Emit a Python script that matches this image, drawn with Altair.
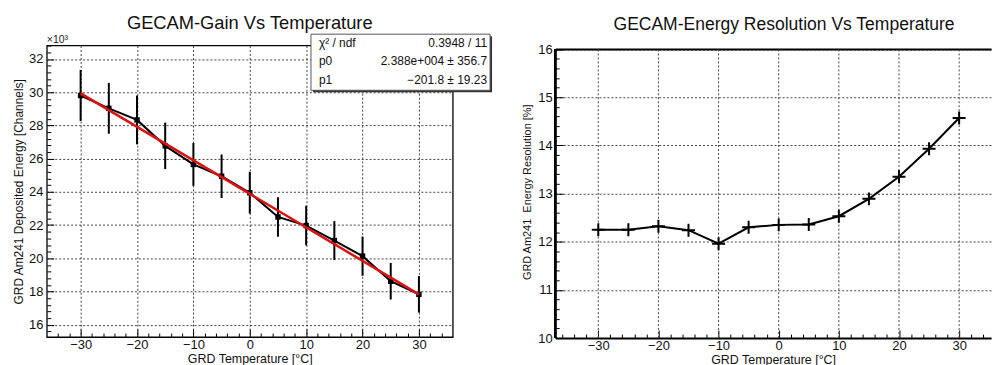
import altair as alt
import pandas as pd

# ---------------- data ----------------
temps = [-30, -25, -20, -15, -10, -5, 0, 5, 10, 15, 20, 25, 30]
gain = [29800, 29030, 28330, 26770, 25650, 24940, 23950, 22490, 21970, 21070, 20130, 18620, 17830]
gain_err = [1540, 1530, 1470, 1400, 1290, 1310, 1260, 1190, 1190, 1170, 1180, 1100, 1100]
fit_t = [-30, 30]
fit_gain = [29930, 17830]
resolution = [12.25, 12.25, 12.32, 12.24, 11.96, 12.30, 12.35, 12.36, 12.53, 12.89, 13.35, 13.93, 14.57]

stat_names = ["χ² / ndf", "p0", "p1"]
stat_values = ["0.3948 / 11", "2.388e+004 ± 356.7", "−201.8 ± 19.23"]

left_title = "GECAM-Gain Vs Temperature"
right_title = "GECAM-Energy Resolution Vs Temperature"
x_title = "GRD Temperature [°C]"
left_y_title = "GRD Am241 Deposited Energy [Channels]"
right_y_title = "GRD Am241\u00a0 Energy Resolution [%]"

x_major = [-30, -20, -10, 0, 10, 20, 30]
left_x_minor = [v for v in range(-34, 35, 2) if v % 10 != 0]
right_x_minor = [v for v in range(-36, 35, 2) if v % 10 != 0]
left_y_major = [16000, 18000, 20000, 22000, 24000, 26000, 28000, 30000, 32000]
left_y_minor = [v for v in range(15600, 32801, 400) if v % 2000 != 0]
right_y_major = [10, 11, 12, 13, 14, 15, 16]
right_y_minor = [round(10 + 0.2 * i, 1) for i in range(31) if i % 5 != 0]
right_y_lo, right_y_hi = 10, 16

FONT = "Liberation Sans"
LW, LH = 408, 293
RW, RH = 438, 294
R_EXTRA = 3.6  # pixels of plot area above the right panel's top frame

df_gain = pd.DataFrame({
    "t": temps,
    "g": gain,
    "lo": [g - e for g, e in zip(gain, gain_err)],
    "hi": [g + e for g, e in zip(gain, gain_err)],
})
df_fit = pd.DataFrame({"t": fit_t, "g": fit_gain})
df_res = pd.DataFrame({"t": temps, "r": resolution})
df_rgrid = pd.DataFrame({"t": x_major})
one = pd.DataFrame({"a": [0]})

grid_kw = dict(grid=True, gridColor="#444", gridDash=[2, 2], gridWidth=1)


def main_x(domain_on, dw=1, grid=True):
    kw = dict(grid_kw)
    kw["grid"] = grid
    return alt.Axis(orient="bottom", values=x_major, ticks=False, tickSize=0, domain=domain_on,
                    domainColor="black", domainWidth=dw,
                    labelFontSize=13, labelPadding=2, labelColor="#111", labelFont=FONT,
                    title=x_title, titleFontSize=12.5, titleFont=FONT, titleFontWeight="normal",
                    titlePadding=0.5, titleColor="#111", **kw)


def tick_x(vals, size, H):
    return alt.Axis(orient="top", offset=-H, values=vals, labels=False, domain=False, grid=False,
                    ticks=True, tickSize=size, tickColor="black", tickWidth=1, title=None)


def tick_y(vals, size, W):
    return alt.Axis(orient="right", offset=-W, values=vals, labels=False, domain=False, grid=False,
                    ticks=True, tickSize=size, tickColor="black", tickWidth=1, title=None)


# ---------------- left panel ----------------
lxs = alt.Scale(domain=[-36, 36], nice=False, zero=False)
lys = alt.Scale(domain=[15260, 32810], nice=False, zero=False)

l_y_axis = alt.Axis(orient="left", values=left_y_major, labelExpr="datum.value / 1000",
                    ticks=False, tickSize=0, domain=False,
                    labelFontSize=13, labelPadding=4, labelColor="#111", labelFont=FONT,
                    title=left_y_title, titleFontSize=12, titleFont=FONT, titleFontWeight="normal",
                    titlePadding=3, titleColor="#111", **grid_kw)

l_line = alt.Chart(df_gain).mark_line(color="black", strokeWidth=2).encode(
    x=alt.X("t:Q", scale=lxs, axis=main_x(False)),
    y=alt.Y("g:Q", scale=lys, axis=l_y_axis),
)
l_err = alt.Chart(df_gain).mark_rule(color="black", strokeWidth=2).encode(
    x=alt.X("t:Q", axis=tick_x(x_major, 8, LH)),
    y=alt.Y("lo:Q", axis=tick_y(left_y_major, 7, LW)),
    y2="hi:Q",
)
l_pts = alt.Chart(df_gain).mark_point(shape="square", filled=True, size=30, color="black", opacity=1).encode(
    x=alt.X("t:Q", axis=tick_x(left_x_minor, 4, LH)),
    y=alt.Y("g:Q", axis=tick_y(left_y_minor, 4, LW)),
)
l_fit = alt.Chart(df_fit).mark_line(color="#dd1111", strokeWidth=2.5).encode(
    x=alt.X("t:Q", axis=None),
    y=alt.Y("g:Q", axis=None),
)

exp_txt = alt.Chart(one).mark_text(text="×10³", align="left", baseline="middle", fontSize=10.5,
                                   font=FONT, color="#222").encode(x=alt.value(0), y=alt.value(-6))

box_shadow = alt.Chart(one).mark_rect(color="#333").encode(
    x=alt.value(267.5), x2=alt.value(447.5), y=alt.value(-9.4), y2=alt.value(47))
box = alt.Chart(one).mark_rect(fill="white", stroke="#555", strokeWidth=1).encode(
    x=alt.value(265.5), x2=alt.value(445.5), y=alt.value(-11.4), y2=alt.value(45))

stat_layers = []
row_y = [-3, 16, 35]
for i in range(3):
    stat_layers.append(alt.Chart(one).mark_text(text=stat_names[i], align="left", baseline="middle",
                                                fontSize=12, font=FONT, color="#111").encode(
        x=alt.value(273.5), y=alt.value(row_y[i])))
    stat_layers.append(alt.Chart(one).mark_text(text=stat_values[i], align="right", baseline="middle",
                                                fontSize=12, font=FONT, color="#111").encode(
        x=alt.value(442.5), y=alt.value(row_y[i])))

left = alt.layer(l_line, l_err, l_pts, l_fit, exp_txt, box_shadow, box, *stat_layers).resolve_axis(
    x="independent", y="independent").properties(
    width=LW, height=LH,
    title=alt.TitleParams(left_title, fontSize=18.4, font=FONT, fontWeight="normal", color="#111",
                          offset=1.4, frame="group"),
    view=alt.ViewBackground(stroke="black", strokeWidth=1.3),
)

# ---------------- right panel ----------------
r_top_val = right_y_hi + R_EXTRA * (right_y_hi - right_y_lo) / (RH - R_EXTRA)
rxs = alt.Scale(domain=[-37.16, 35.3], nice=False, zero=False)
rys = alt.Scale(domain=[right_y_lo, r_top_val], nice=False, zero=False)

r_y_axis = alt.Axis(orient="left", values=right_y_major, ticks=False, tickSize=0, domain=False,
                    labelFontSize=13, labelPadding=3, labelColor="#111", labelFont=FONT,
                    title=right_y_title, titleFontSize=11, titleFont=FONT, titleFontWeight="normal",
                    titlePadding=5, titleColor="#111", **grid_kw)

cross = "M-1,0H1M0,-1V1"

r_grid = alt.Chart(df_rgrid).mark_rule(color="#444", strokeDash=[2, 2], strokeWidth=1).encode(
    x=alt.X("t:Q", scale=rxs, axis=main_x(True, 2, grid=False)),
    y=alt.datum(right_y_lo, scale=rys, axis=r_y_axis),
    y2=alt.datum(right_y_hi),
)
r_left = alt.Chart(df_rgrid).mark_rule(color="black", strokeWidth=2).encode(
    x=alt.datum(-37.16, axis=None),
    y=alt.datum(right_y_lo, axis=None),
    y2=alt.datum(right_y_hi),
)
r_line = alt.Chart(df_res).mark_line(color="black", strokeWidth=2).encode(
    x=alt.X("t:Q", axis=None),
    y=alt.Y("r:Q", axis=None),
)
r_pts = alt.Chart(df_res).mark_point(shape=cross, size=170, filled=False, color="black",
                                     strokeWidth=2, opacity=1).encode(
    x=alt.X("t:Q", axis=tick_x(x_major, 8, RH)),
    y=alt.Y("r:Q", axis=tick_y(right_y_major, 8, RW)),
)
r_minor = alt.Chart(df_res).mark_point(opacity=0).encode(
    x=alt.X("t:Q", axis=tick_x(right_x_minor, 4, RH)),
    y=alt.Y("r:Q", axis=tick_y(right_y_minor, 4, RW)),
)
r_top = alt.Chart(df_res).mark_point(opacity=0).encode(
    x=alt.X("t:Q", axis=alt.Axis(orient="top", offset=-R_EXTRA, labels=False, ticks=False, grid=False,
                                 domain=True, domainColor="black", domainWidth=2, title=None)),
    y=alt.Y("r:Q", axis=None),
)

right = alt.layer(r_grid, r_left, r_line, r_pts, r_minor, r_top).resolve_axis(
    x="independent", y="independent").properties(
    width=RW, height=RH,
    title=alt.TitleParams(right_title, fontSize=17.6, font=FONT, fontWeight="normal", color="#111",
                          offset=9.9, dx=11, frame="group"),
    view=alt.ViewBackground(stroke="transparent"),
)

chart = alt.hconcat(left, right, spacing=28).properties(
    padding={"left": 3, "top": 3.8, "right": 0, "bottom": 0}
).configure(background="white")

chart.save("out.html", embed_options={"renderer": "svg", "actions": False})
